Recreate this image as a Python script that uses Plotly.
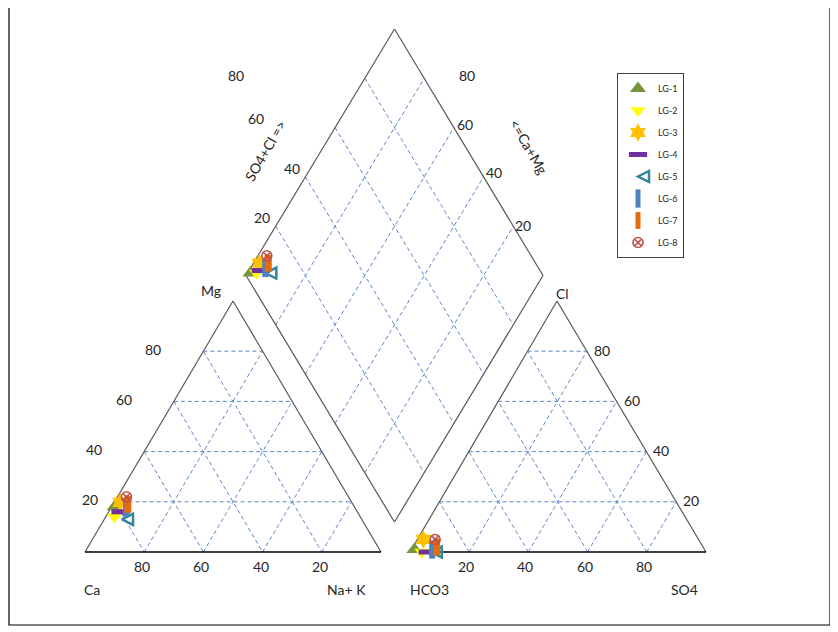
import plotly.graph_objects as go

# ---------------- data (percent of meq) ----------------
samples = ["LG-1", "LG-2", "LG-3", "LG-4", "LG-5", "LG-6", "LG-7", "LG-8"]
ca   = [81, 83, 79, 80, 81, 78, 76, 75]
mg   = [18, 14, 20, 16, 13, 18, 19, 22]
nak  = [1, 3, 2, 4, 6, 5, 5, 3]
hco3 = [98, 96, 93, 94, 93, 92, 90, 89]
so4  = [1, 4, 2, 6, 7, 7, 8, 6]
cl   = [1, 0, 5, 0, 0, 1, 2, 5]
tick_vals = [20, 40, 60, 80]

# ---------------- styles ----------------
symbols = ["triangle-up", "triangle-down", "hexagram", "line-ew", "arrow-left-open",
           "line-ns", "line-ns", "circle-x-open"]
colors = ["#77933C", "#FFFF00", "#FFC000", "#7030A0", "#31859C", "#4F81BD", "#E46C0A", "#C0504D"]
sizes = [14, 13, 14, 13, 11, 13, 12, 10]
lwidths = [0, 0, 0, 5, 2.5, 6, 7, 1.6]

FONT = "Lato"
GRID = dict(color="#5B86C8", width=1, dash="4px,3px")
EDGE = dict(color="#595959", width=1.2)
BASE = dict(color="#000000", width=1.5)
OFF = 8  # page body margin

# geometry (pixel layout space)
CA, NA, MG = (85, 552), (381, 552), (233, 301)
HC, SO, CL = (410, 552), (706, 552), (557, 301)
DL, DT, DR, DB = (246, 275.5), (394.5, 29), (543, 275.5), (394.5, 522)


def tern(a, b, c, A, B, C):
    s = a + b + c
    a, b, c = a / s, b / s, c / s
    return (a * A[0] + b * B[0] + c * C[0], a * A[1] + b * B[1] + c * C[1])


def cat_pt(c, m, n):
    return tern(c, n, m, CA, NA, MG)


def an_pt(h, s, c):
    return tern(h, s, c, HC, SO, CL)


def dia_pt(n, s):
    return (DL[0] + n * (DB[0] - DL[0]) + s * (DT[0] - DL[0]),
            DL[1] + n * (DB[1] - DL[1]) + s * (DT[1] - DL[1]))


fig = go.Figure()


def seg(p, q, line):
    fig.add_trace(go.Scatter(x=[p[0], q[0]], y=[p[1], q[1]], mode="lines", line=line,
                             hoverinfo="skip", showlegend=False))


# grids
for v in tick_vals:
    k = v / 100
    seg(cat_pt(1 - k, k, 0), cat_pt(0, k, 1 - k), GRID)
    seg(cat_pt(k, 1 - k, 0), cat_pt(k, 0, 1 - k), GRID)
    seg(cat_pt(1 - k, 0, k), cat_pt(0, 1 - k, k), GRID)
    seg(an_pt(1 - k, 0, k), an_pt(0, 1 - k, k), GRID)
    seg(an_pt(k, 1 - k, 0), an_pt(k, 0, 1 - k), GRID)
    seg(an_pt(1 - k, k, 0), an_pt(0, k, 1 - k), GRID)
    seg(dia_pt(k, 0), dia_pt(k, 1), GRID)
    seg(dia_pt(0, k), dia_pt(1, k), GRID)

# outlines
seg(CA, MG, EDGE); seg(MG, NA, EDGE); seg(CA, NA, BASE)
seg(HC, CL, EDGE); seg(CL, SO, EDGE); seg(HC, SO, BASE)
seg(DL, DT, EDGE); seg(DT, DR, EDGE); seg(DR, DB, EDGE); seg(DB, DL, EDGE)

# samples
for i, name in enumerate(samples):
    pts = [cat_pt(ca[i], mg[i], nak[i]), an_pt(hco3[i], so4[i], cl[i]),
           dia_pt(nak[i] / (ca[i] + mg[i] + nak[i]), (so4[i] + cl[i]) / (hco3[i] + so4[i] + cl[i]))]
    open_like = symbols[i] in ("line-ew", "line-ns", "arrow-left-open", "circle-x-open")
    fig.add_trace(go.Scatter(
        x=[p[0] for p in pts], y=[p[1] for p in pts], mode="markers", name=name,
        legendgroup=name,
        marker=dict(symbol=symbols[i], size=sizes[i], color=colors[i],
                    line=dict(color=colors[i], width=lwidths[i] if open_like else 0)),
    ))

# ---------------- text ----------------
ann = []


def txt(x, y, t, size=14, angle=0):
    ann.append(dict(x=x, y=y, xref="x", yref="y", text=t, showarrow=False,
                    font=dict(family=FONT, size=size, color="#262626"), textangle=angle))


for v in tick_vals:
    k = v / 100
    p = cat_pt(k, 0, 1 - k)
    txt(p[0] - 2, 566, str(v))
left_shift = {20: -25, 40: -50, 60: -50, 80: -50}
for v in tick_vals:
    p = cat_pt(1 - v / 100, v / 100, 0)
    txt(p[0] + left_shift[v], p[1] - 2, str(v))
for v in tick_vals:
    p = an_pt(1 - v / 100, v / 100, 0)
    txt(p[0] - 3, 566, str(v))
for v in tick_vals:
    p = an_pt(0, 1 - v / 100, v / 100)
    txt(p[0] + 15, p[1] - 1, str(v))
dia_left = {80: (236, 75), 60: (256, 118), 40: (292, 168), 20: (262, 217)}
dia_right = {80: (467, 75), 60: (465, 124), 40: (494, 172), 20: (523, 225)}
for v in tick_vals:
    txt(*dia_left[v], str(v))
    txt(*dia_right[v], str(v))

txt(211, 290, "Mg")
txt(562, 293, "Cl")
txt(92, 589, "Ca")
txt(346, 589, "Na+ K")
txt(429, 589, "HCO3")
txt(684, 589, "SO4")
txt(265, 150, "SO4+Cl =>", 14, -60)
txt(529, 146, "<=Ca+Mg", 14, 60)

fig.update_layout(
    width=838, height=632, margin=dict(l=0, r=0, t=0, b=0),
    paper_bgcolor="white", plot_bgcolor="white",
    xaxis=dict(range=[OFF, 838 + OFF], visible=False, fixedrange=True),
    yaxis=dict(range=[632 + OFF, OFF], visible=False, fixedrange=True),
    annotations=ann,
    shapes=[dict(type="rect", xref="x", yref="y", x0=9, y0=6, x1=830, y1=625,
                 line=dict(color="black", width=1.2), layer="below")],
    legend=dict(x=(617 - OFF) / 838, y=1 - (73 - OFF) / 632, xanchor="left", yanchor="top",
                bgcolor="white", bordercolor="#404040", borderwidth=1,
                font=dict(family=FONT, size=9, color="#262626"), tracegroupgap=3,
                itemwidth=30),
    showlegend=True,
)

fig.write_html("out.html")
